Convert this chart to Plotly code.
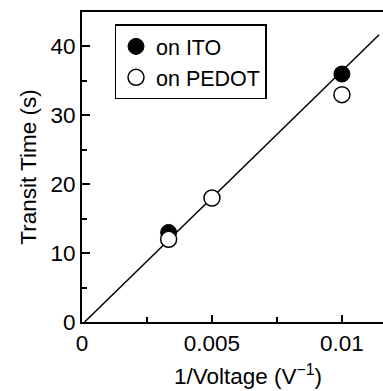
import plotly.graph_objects as go

# Data
ito_voltage = [300, 100]
ito_time = [13, 36]
pedot_voltage = [300, 200, 100]
pedot_time = [12, 18, 33]
fit_x = [0.0001, 0.01143]
fit_y = [0, 41.7]

x_ticks = [0, 0.005, 0.01]
x_ticklabels = ["0", "0.005", "0.01"]
y_ticks = [0, 10, 20, 30, 40]
x_title = "1/Voltage (V<sup>−1</sup>)"
y_title = "Transit Time (s)"

FONT = "Liberation Sans, Arial, sans-serif"
FS = 22.5

fig = go.Figure()
fig.add_trace(go.Scatter(x=fit_x, y=fit_y, mode="lines",
                         line=dict(color="black", width=1.5),
                         showlegend=False, hoverinfo="skip"))
fig.add_trace(go.Scatter(x=[1 / v for v in ito_voltage], y=ito_time, mode="markers",
                         name="on ITO",
                         marker=dict(symbol="circle", size=16, color="black",
                                     line=dict(color="black", width=1))))
fig.add_trace(go.Scatter(x=[1 / v for v in pedot_voltage], y=pedot_time, mode="markers",
                         name="on PEDOT",
                         marker=dict(symbol="circle", size=16, color="white",
                                     line=dict(color="black", width=1.5))))

fig.update_layout(
    width=383, height=391,
    margin=dict(l=82, r=0, t=12, b=69),
    paper_bgcolor="white", plot_bgcolor="white",
    font=dict(family=FONT, size=FS, color="black"),
    legend=dict(x=0.108, y=0.96, xanchor="left", yanchor="top",
                bordercolor="black", borderwidth=1.5, bgcolor="white",
                font=dict(family=FONT, size=21.5, color="black"),
                tracegroupgap=0, itemsizing="trace"),
    xaxis=dict(range=[0, 0.01158], showgrid=False, zeroline=False,
               showline=True, linecolor="black", linewidth=2, mirror=True,
               ticks="inside", ticklen=7, tickwidth=1.5, tickcolor="black",
               tickvals=x_ticks, ticktext=x_ticklabels,
               minor=dict(dtick=0.0025, tick0=0, ticks="inside", ticklen=5,
                          tickwidth=1.5, tickcolor="black", showgrid=False)),
    yaxis=dict(range=[0, 45], showgrid=False, zeroline=False,
               showline=True, linecolor="black", linewidth=2, mirror=False,
               ticks="inside", ticklen=8, tickwidth=1.5, tickcolor="black",
               tickvals=y_ticks,
               minor=dict(dtick=5, tick0=0, ticks="inside", ticklen=5,
                          tickwidth=1.5, tickcolor="black", showgrid=False),
               title=dict(text=y_title, standoff=8,
                          font=dict(family=FONT, size=FS))),
    annotations=[dict(text=x_title, xref="paper", yref="paper",
                      x=(248 - 82) / 301, y=0, yshift=-69,
                      xanchor="center", yanchor="bottom", showarrow=False,
                      font=dict(family=FONT, size=FS, color="black"))],
)

fig.write_html("out.html")
